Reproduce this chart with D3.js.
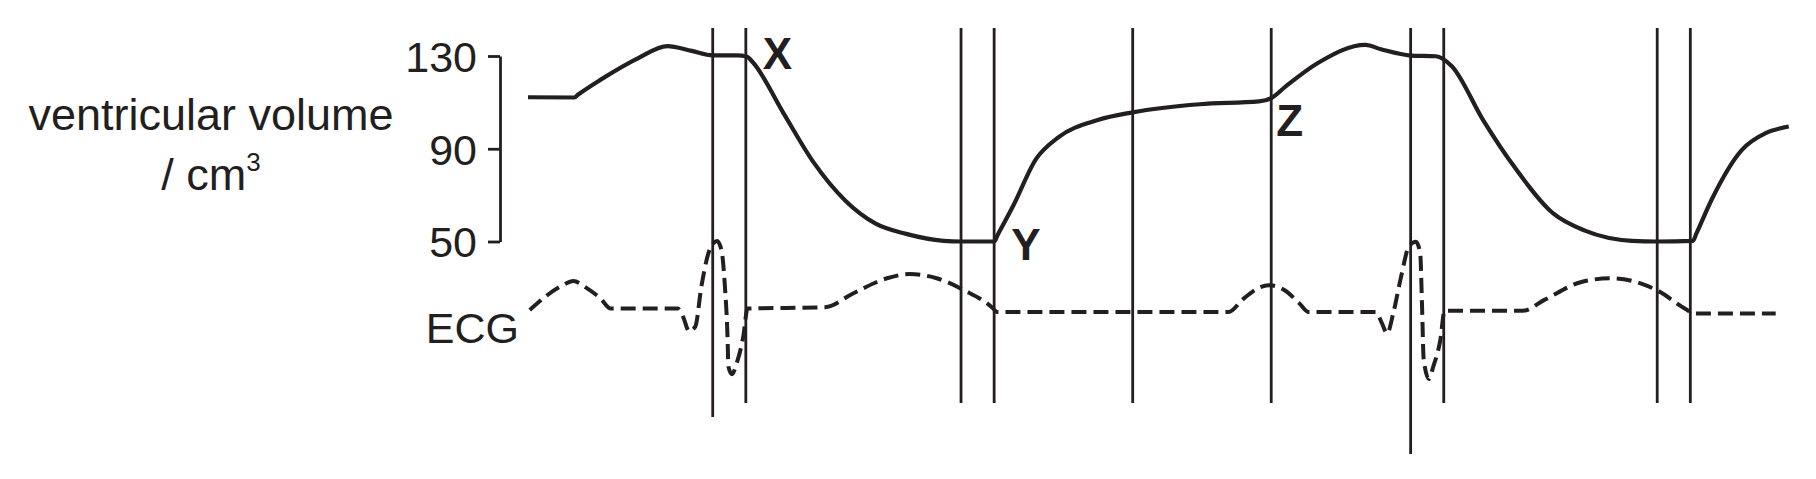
<!DOCTYPE html>
<html>
<head>
<meta charset="utf-8">
<script src="https://cdn.jsdelivr.net/npm/d3@7"></script>
<style>
  html, body { margin: 0; padding: 0; background: #fff; }
  svg { display: block; }
  text { font-family: "Liberation Sans", Arial, Helvetica, sans-serif; fill: #231f20; }
</style>
</head>
<body>
<svg id="chart" width="1816" height="479"></svg>
<script>
// time in ms, volume in cm3, ECG in mV (roughly)
const volumeTicks = [50, 90, 130];

const volumeTime = [0, 53, 58, 83, 126, 160, 188, 212, 240, 251, 258, 293, 328, 364, 399, 434, 477, 497, 535, 539,
  557, 583, 609, 654, 694, 771, 839, 853, 870, 907, 961, 979, 1013, 1042, 1060, 1096, 1132, 1177,
  1213, 1267, 1296, 1337, 1341, 1358, 1393, 1421, 1447];
const volumeValue = [112.2, 112.1, 113.5, 119.7, 129, 134.3, 132.2, 130.3, 130.3, 129.8, 127.3, 105.5, 84, 67.7, 57.7, 53.3, 50.3, 50, 50, 52.8,
  65.5, 85.5, 95, 102.4, 105.7, 109.2, 110.4, 111.8, 117, 127.1, 134.8, 132.9, 130.2, 129.9, 125.7, 102.5, 82.2, 62,
  54.7, 50.3, 50, 50.3, 53.5, 67.7, 89.4, 96.8, 99.6];

const ecgTime = [2, 40, 52, 67, 83, 95, 172, 178, 185, 192, 199, 207, 213, 217, 222, 226, 229, 230, 234, 239.5, 247, 252,
  341, 373, 412, 438, 469, 500, 534, 538,
  804, 820, 837, 850, 868, 885, 896, 973, 980, 986, 993, 1002, 1011, 1019, 1024, 1026, 1028, 1034, 1039, 1047, 1052,
  1142, 1167, 1210, 1243, 1276, 1298, 1329, 1338, 1432];
const ecgValue = [0, 0.36, 0.42, 0.32, 0.17, 0.02, 0.02, -0.1, -0.31, -0.24, 0.34, 0.82, 0.97, 1.0, 0.87, 0.34, -0.39, -0.82, -0.93, -0.77, -0.39, 0.02,
  0.04, 0.24, 0.46, 0.52, 0.46, 0.29, 0.02, -0.03,
  -0.03, 0.15, 0.31, 0.36, 0.29, 0.1, -0.03, -0.03, -0.19, -0.34, -0.05, 0.48, 0.92, 0.99, 0.82, 0.1, -0.72, -1.0, -0.82, -0.44, -0.01,
  -0.01, 0.15, 0.41, 0.46, 0.39, 0.27, 0.01, -0.05, -0.05];

// valve / phase events (ms)
const eventTimes = [212, 250, 497, 535, 694, 853, 1013, 1051, 1296, 1334];
const longEvents = [212, 1013];
const eventLabels = ["X", "Y", "Z"];

const svg = d3.select("#chart");
const ink = "#231f20";

const x = d3.scaleLinear().domain([0, 1450]).range([528, 1791.4]);
const y = d3.scaleLinear().domain([50, 130]).range([241.5, 56]);
const ecgY = d3.scaleLinear().domain([0, 1]).range([310, 241]);

// vertical event lines
svg.append("g")
  .selectAll("line")
  .data(eventTimes)
  .join("line")
  .attr("x1", d => x(d)).attr("x2", d => x(d))
  .attr("y1", 28)
  .attr("y2", d => d === longEvents[0] ? 417 : d === longEvents[1] ? 454 : 403)
  .attr("stroke", ink)
  .attr("stroke-width", 2.8);

// y axis
const axis = svg.append("g")
  .attr("transform", "translate(500,0)")
  .call(d3.axisLeft(y).tickValues(volumeTicks).tickSize(12).tickSizeOuter(0).tickPadding(11));
axis.select(".domain").attr("stroke", ink).attr("stroke-width", 2.8);
axis.selectAll(".tick line").attr("stroke", ink).attr("stroke-width", 2.8);
axis.selectAll(".tick text")
  .attr("fill", ink)
  .style("font-size", "43px")
  .attr("dy", "0.36em");

// volume curve
const volLine = d3.line()
  .x((d, i) => x(volumeTime[i]))
  .y(d => y(d))
  .curve(d3.curveMonotoneX);

svg.append("path")
  .attr("d", volLine(volumeValue))
  .attr("fill", "none")
  .attr("stroke", ink)
  .attr("stroke-width", 4.2)
  .attr("stroke-linejoin", "round");

// ECG trace
const ecgLine = d3.line()
  .x((d, i) => x(ecgTime[i]))
  .y(d => ecgY(d))
  .curve(d3.curveMonotoneX);

svg.append("path")
  .attr("d", ecgLine(ecgValue))
  .attr("fill", "none")
  .attr("stroke", ink)
  .attr("stroke-width", 4)
  .attr("stroke-dasharray", "15,7");

// axis title
const title = svg.append("text")
  .attr("text-anchor", "middle")
  .style("font-size", "45px");
title.append("tspan").attr("x", 211).attr("y", 130).text("ventricular volume");
const unit = title.append("tspan").attr("x", 211).attr("y", 190);
unit.text("/ cm");
title.append("tspan").attr("dy", -19).style("font-size", "26px").text("3");

svg.append("text")
  .attr("x", 519).attr("y", 343)
  .attr("text-anchor", "end")
  .style("font-size", "43px")
  .text("ECG");

// point labels
const labelPos = [
  [x(250) + 17, y(130) + 13],
  [x(535) + 17, y(50) + 18],
  [x(853) + 5, y(111.8) + 38]
];
svg.append("g")
  .selectAll("text")
  .data(eventLabels)
  .join("text")
  .attr("x", (d, i) => labelPos[i][0])
  .attr("y", (d, i) => labelPos[i][1])
  .style("font-size", "44px")
  .style("font-weight", "bold")
  .text(d => d);
</script>
</body>
</html>
